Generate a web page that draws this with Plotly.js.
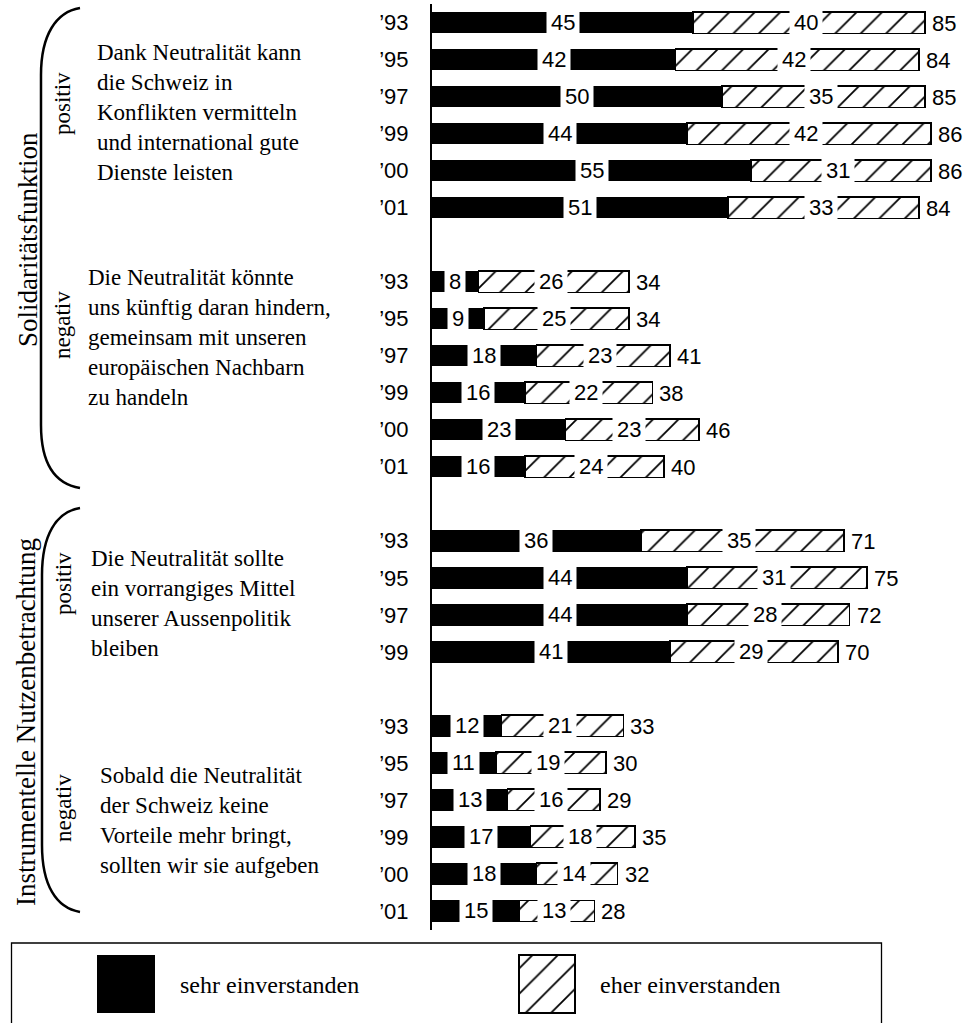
<!DOCTYPE html>
<html><head><meta charset="utf-8">
<script src="https://cdn.plot.ly/plotly-3.0.1.min.js"></script>
<style>html,body{margin:0;padding:0;background:#fff}#chart{width:974px;height:1023px}</style>
</head><body><div id="chart"></div>
<script>
// ---------------- DATA ----------------
const yearsA = ["’93","’95","’97","’99","’00","’01"];
const sehrA  = [45, 42, 50, 44, 55, 51];
const eherA  = [40, 42, 35, 42, 31, 33];
const totalA = [85, 84, 85, 86, 86, 84];

const yearsB = ["’93","’95","’97","’99","’00","’01"];
const sehrB  = [8, 9, 18, 16, 23, 16];
const eherB  = [26, 25, 23, 22, 23, 24];
const totalB = [34, 34, 41, 38, 46, 40];

const yearsC = ["’93","’95","’97","’99"];
const sehrC  = [36, 44, 44, 41];
const eherC  = [35, 31, 28, 29];
const totalC = [71, 75, 72, 70];

const yearsD = ["’93","’95","’97","’99","’00","’01"];
const sehrD  = [12, 11, 13, 17, 18, 15];
const eherD  = [21, 19, 16, 18, 14, 13];
const totalD = [33, 30, 29, 35, 32, 28];

const statementA = ["Dank Neutralität kann","die Schweiz in","Konflikten vermitteln","und international gute","Dienste leisten"];
const statementB = ["Die Neutralität könnte","uns künftig daran hindern,","gemeinsam mit unseren","europäischen Nachbarn","zu handeln"];
const statementC = ["Die Neutralität sollte","ein vorrangiges Mittel","unserer Aussenpolitik","bleiben"];
const statementD = ["Sobald die Neutralität","der Schweiz keine","Vorteile mehr bringt,","sollten wir sie aufgeben"];

const sectionNames  = ["Solidaritätsfunktion","Instrumentelle Nutzenbetrachtung"];
const polarityNames = ["positiv","negativ"];
const seriesNames   = ["sehr einverstanden","eher einverstanden"];

// ---------------- LAYOUT HELPERS ----------------
const W = 974, H = 1023, MT = 4, MB = 0;
const X = px => px / W;
const Y = py => (H - py) / (H - MT - MB);
const P = (x, y) => X(x).toFixed(5) + ',' + Y(y).toFixed(5);

const SANS = 'Liberation Sans, Arial, sans-serif';
const SERIF = 'Liberation Serif, Times New Roman, serif';

const AXIS_X = 432, PLOT_BOTTOM = 929.5, PX_PER_UNIT = 2.9;
const BAR_W = 0.58;

// assemble rows (one blank row between statement groups)
const groups = [
  {years: yearsA, sehr: sehrA, eher: eherA, total: totalA},
  {years: yearsB, sehr: sehrB, eher: eherB, total: totalB},
  {years: yearsC, sehr: sehrC, eher: eherC, total: totalC},
  {years: yearsD, sehr: sehrD, eher: eherD, total: totalD}
];
const rows = [], tickText = [], sehr = [], eher = [], total = [];
let r = 0;
groups.forEach((g, gi) => {
  if (gi > 0) r += 1;
  g.years.forEach((yy, i) => {
    rows.push(r); tickText.push(yy);
    sehr.push(g.sehr[i]); eher.push(g.eher[i]); total.push(g.total[i]);
    r++;
  });
});
const nRows = r;

const hatchPattern = {shape: '/', fgcolor: '#000', bgcolor: '#fff', size: 18, solidity: 0.1};
const blackBar = {type: 'bar', orientation: 'h', y: rows, width: BAR_W,
  marker: {color: '#000', line: {color: '#000', width: 0}}, hoverinfo: 'skip', showlegend: false};
const hatchBar = {type: 'bar', orientation: 'h', y: rows, width: BAR_W,
  marker: {color: '#fff', line: {color: '#000', width: 1.5}, pattern: hatchPattern}, hoverinfo: 'skip', showlegend: false};

const traces = [
  Object.assign({}, blackBar, {x: sehr, name: seriesNames[0]}),
  Object.assign({}, blackBar, {x: sehr, name: seriesNames[0]}),
  Object.assign({}, hatchBar, {x: eher, name: seriesNames[1]}),
  Object.assign({}, hatchBar, {x: eher, name: seriesNames[1]})
];

// legend swatches (on a separate, hidden pixel axis)
const LEG = {blackX: 126, blackW: 58, hatchX: 547, hatchW: 56, top: 955, bottom: 1013};
traces.push({type: 'bar', x: [LEG.blackX], y: [1], width: [LEG.blackW], xaxis: 'x2', yaxis: 'y2',
  marker: {color: '#000', line: {width: 0}}, hoverinfo: 'skip', showlegend: false, name: seriesNames[0]});
traces.push({type: 'bar', x: [LEG.hatchX], y: [1], width: [LEG.hatchW], xaxis: 'x2', yaxis: 'y2',
  marker: {color: '#fff', line: {color: '#000', width: 2}, pattern: hatchPattern}, hoverinfo: 'skip', showlegend: false, name: seriesNames[1]});

// ---------------- ANNOTATIONS ----------------
const ann = [];
const labelFont = {family: SANS, size: 22, color: '#000'};
rows.forEach((row, i) => {
  ann.push({xref: 'x', yref: 'y', x: sehr[i], y: row, text: String(sehr[i]), showarrow: false,
    font: labelFont, bgcolor: '#fff', borderpad: 4, xanchor: 'center', yanchor: 'middle'});
  ann.push({xref: 'x', yref: 'y', x: 2 * sehr[i] + eher[i], y: row, text: String(eher[i]), showarrow: false,
    font: labelFont, bgcolor: '#fff', borderpad: 4, xanchor: 'center', yanchor: 'middle', xshift: -3});
  ann.push({xref: 'x', yref: 'y', x: 2 * sehr[i] + 2 * eher[i], y: row, text: String(total[i]), showarrow: false,
    font: labelFont, xanchor: 'left', yanchor: 'middle', xshift: 5, yshift: -1});
});

const textFont = {family: SERIF, size: 23, color: '#000'};
const addBlock = (lines, x, y) => ann.push({xref: 'paper', yref: 'paper', x: X(x), y: Y(y),
  text: lines.join('<br>'), showarrow: false, font: textFont, align: 'left', xanchor: 'left', yanchor: 'middle'});
addBlock(statementA, 95, 112);
addBlock(statementB, 86, 337);
addBlock(statementC, 89, 603);
addBlock(statementD, 98, 820);

const rot = (t, x, y, size) => ann.push({xref: 'paper', yref: 'paper', x: X(x), y: Y(y), text: t, showarrow: false,
  textangle: -90, font: {family: SERIF, size: size, color: '#000'}, xanchor: 'center', yanchor: 'middle'});
rot(sectionNames[0], 28, 240, 27);
rot(sectionNames[1], 26, 722, 27);
rot(polarityNames[0], 63, 104, 23);
rot(polarityNames[1], 63, 325, 23);
rot(polarityNames[0], 63, 584, 23);
rot(polarityNames[1], 63, 808, 23);

const legFont = {family: SERIF, size: 24, color: '#000'};
ann.push({xref: 'paper', yref: 'paper', x: X(178), y: Y(985), text: seriesNames[0], showarrow: false, font: legFont, xanchor: 'left', yanchor: 'middle'});
ann.push({xref: 'paper', yref: 'paper', x: X(598), y: Y(985), text: seriesNames[1], showarrow: false, font: legFont, xanchor: 'left', yanchor: 'middle'});

// ---------------- SHAPES ----------------
const shapes = [
  {type: 'path', xref: 'paper', yref: 'paper', line: {color: '#000', width: 2.5},
    path: `M ${P(80,8)} C ${P(56,12)} ${P(41,35)} ${P(41,75)} L ${P(41,425)} C ${P(41,465)} ${P(56,484)} ${P(80,488)}`},
  {type: 'path', xref: 'paper', yref: 'paper', line: {color: '#000', width: 2.5},
    path: `M ${P(80,508)} C ${P(56,512)} ${P(42,535)} ${P(42,575)} L ${P(42,845)} C ${P(42,885)} ${P(56,908)} ${P(80,912)}`},
  {type: 'path', xref: 'paper', yref: 'paper', line: {color: '#000', width: 1.3},
    path: `M ${P(11.5,1030)} L ${P(11.5,943)} L ${P(881.5,943)} L ${P(881.5,1030)}`}
];

const xMax = (W - AXIS_X) / PX_PER_UNIT;
const legPad = 2 / (LEG.bottom - LEG.top);

const layout = {
  width: W, height: H,
  margin: {l: 0, r: 0, t: MT, b: MB, pad: 0},
  paper_bgcolor: '#fff', plot_bgcolor: 'rgba(0,0,0,0)',
  barmode: 'stack', bargap: 0, showlegend: false,
  xaxis: {domain: [X(AXIS_X), 1], range: [0, xMax], visible: false, fixedrange: true},
  yaxis: {domain: [Y(PLOT_BOTTOM), 1], range: [nRows - 0.5, -0.5], tickmode: 'array',
    tickvals: rows, ticktext: tickText, ticks: '', showgrid: false, zeroline: false,
    showline: true, linecolor: '#000', linewidth: 2, ticklabelstandoff: 17,
    tickfont: {family: SANS, size: 22, color: '#000'}, fixedrange: true},
  xaxis2: {domain: [0, 1], range: [0, W], visible: false, anchor: 'y2', fixedrange: true},
  yaxis2: {domain: [Y(LEG.bottom + 2), Y(LEG.top - 2)], range: [-legPad, 1 + legPad], visible: false, anchor: 'x2', fixedrange: true},
  annotations: ann,
  shapes: shapes
};

Plotly.newPlot('chart', traces, layout, {displayModeBar: false, staticPlot: true});
</script>
</body></html>
